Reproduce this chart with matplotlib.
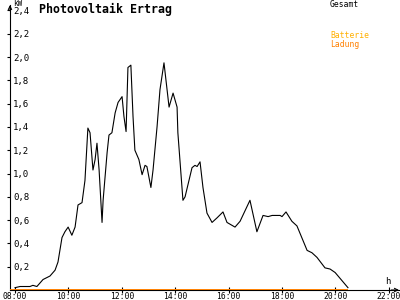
import matplotlib
matplotlib.use("Agg")
import matplotlib.pyplot as plt
import numpy as np

# PV Ertrag (Gesamt), Zeit in Stunden, Leistung in kW
zeit = [8.00, 8.19, 8.56, 8.67, 8.82, 9.05, 9.31, 9.50, 9.61, 9.76,
        9.87, 9.99, 10.13, 10.25, 10.36, 10.51, 10.62, 10.73, 10.81, 10.92,
        11.00, 11.07, 11.15, 11.26, 11.30, 11.45, 11.52, 11.63, 11.75, 11.86,
        12.01, 12.08, 12.16, 12.23, 12.34, 12.42, 12.49, 12.64, 12.76, 12.87,
        12.94, 13.09, 13.17, 13.32, 13.43, 13.58, 13.77, 13.92, 14.07, 14.10,
        14.29, 14.37, 14.63, 14.74, 14.82, 14.93, 15.04, 15.19, 15.38, 15.57,
        15.79, 15.94, 16.24, 16.43, 16.80, 17.06, 17.29, 17.48, 17.63, 17.93,
        18.00, 18.15, 18.37, 18.56, 18.94, 19.12, 19.31, 19.61, 19.80, 19.99,
        20.47]
gesamt = [0.02, 0.03, 0.03, 0.04, 0.03, 0.09, 0.12, 0.17, 0.24, 0.45,
          0.50, 0.54, 0.47, 0.54, 0.73, 0.75, 0.94, 1.39, 1.35, 1.03,
          1.12, 1.26, 1.03, 0.58, 0.77, 1.18, 1.33, 1.35, 1.52, 1.61,
          1.66, 1.49, 1.36, 1.91, 1.93, 1.49, 1.20, 1.12, 0.99, 1.07,
          1.06, 0.88, 1.03, 1.40, 1.72, 1.95, 1.57, 1.69, 1.57, 1.35,
          0.77, 0.80, 1.05, 1.07, 1.06, 1.10, 0.88, 0.66, 0.58, 0.62,
          0.67, 0.58, 0.54, 0.59, 0.77, 0.50, 0.64, 0.63, 0.64, 0.64,
          0.63, 0.67, 0.59, 0.55, 0.34, 0.32, 0.28, 0.19, 0.18, 0.15,
          0.02]

# Batterie Ladung (keine Ladung)
ladung_zeit = [7.82, 20.47]
ladung = [0.0, 0.0]

x_ticks = [8, 10, 12, 14, 16, 18, 20, 22]
x_labels = ["08:00", "10:00", "12:00", "14:00", "16:00", "18:00", "20:00", "22:00"]
y_ticks = [0.2, 0.4, 0.6, 0.8, 1.0, 1.2, 1.4, 1.6, 1.8, 2.0, 2.2, 2.4]
y_labels = ["0,2", "0,4", "0,6", "0,8", "1,0", "1,2", "1,4", "1,6", "1,8", "2,0", "2,2", "2,4"]

mono = "DejaVu Sans Mono"
orange = "#ff8000"

fig = plt.figure(figsize=(4, 3), dpi=100)
ax = fig.add_axes([10 / 400, 10 / 300, 389 / 400, 285 / 300])
ax.set_xlim(8 - 5 / 26.7, 8 + 384 / 26.7)
ax.set_ylim(0, 285 / 116.5)

ax.plot(zeit, gesamt, color="black", lw=0.8)
ax.plot(ladung_zeit, ladung, color=orange, lw=1.4, solid_capstyle="butt", zorder=5)

for s in ["top", "right"]:
    ax.spines[s].set_visible(False)
for s in ["left", "bottom"]:
    ax.spines[s].set_linewidth(0.8)

ax.set_xticks(x_ticks)
ax.set_xticklabels(x_labels, fontfamily=mono, fontsize=5.8)
ax.set_yticks(y_ticks)
ax.set_yticklabels(y_labels, fontfamily=mono, fontsize=6.5)
ax.tick_params(axis="x", direction="inout", length=4, width=0.8, pad=-0.5)
ax.tick_params(axis="y", direction="out", length=2.2, width=0.8, pad=-4.4)
for lab in ax.get_yticklabels():
    lab.set_horizontalalignment("left")

# Pfeile an den Achsen
ax.annotate("", xy=(1.0, 0), xytext=(0.98, 0), xycoords="axes fraction",
            arrowprops=dict(arrowstyle="->", lw=0.8, color="black",
                            mutation_scale=6, shrinkA=0, shrinkB=0))
ax.annotate("", xy=(0, 1.0), xytext=(0, 0.98), xycoords="axes fraction",
            arrowprops=dict(arrowstyle="->", lw=0.8, color="black",
                            mutation_scale=6, shrinkA=0, shrinkB=0))

fig.text(13 / 400, 1 - 4 / 300, "kW", fontfamily=mono, fontsize=5.5, va="center")
fig.text(385 / 400, 1 - 282 / 300, "h", fontfamily=mono, fontsize=6.5, va="center")
fig.text(39 / 400, 1 - 9 / 300, "Photovoltaik Ertrag", fontfamily=mono,
         fontsize=8.4, fontweight="bold", va="center")
fig.text(330 / 400, 1 - 4.5 / 300, "Gesamt", fontfamily=mono, fontsize=5.8, va="center")
fig.text(330 / 400, 1 - 36 / 300, "Batterie", fontfamily=mono, fontsize=5.8,
         va="center", color="#ffb000")
fig.text(330 / 400, 1 - 44 / 300, "Ladung", fontfamily=mono, fontsize=5.8,
         va="center", color=orange)

fig.savefig("out.png", dpi=100, facecolor="white")
